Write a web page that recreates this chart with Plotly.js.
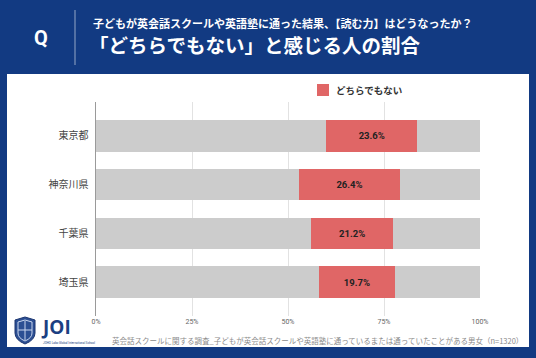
<!DOCTYPE html>
<html>
<head>
<meta charset="utf-8">
<script src="https://cdn.plot.ly/plotly-3.0.1.min.js"></script>
<style>
html,body{margin:0;padding:0;background:#123a82;}
#chart{width:536px;height:358px;}
</style>
</head>
<body>
<div id="chart"></div>
<script>
// ---- data ----
const prefectures = ["東京都", "神奈川県", "千葉県", "埼玉県"];
const leftShare = [60.0, 52.8, 56.1, 58.1];      // gray segment before
const neutralShare = [23.6, 26.4, 21.2, 19.7];   // 「どちらでもない」
const rightShare = [16.4, 20.8, 22.7, 22.2];     // gray segment after
const xTicks = [0, 25, 50, 75, 100];
const xTickLabels = ["0%", "25%", "50%", "75%", "100%"];
const legendLabel = "どちらでもない";
const headerSub = "子どもが英会話スクールや英語塾に通った結果、【読む力】はどうなったか？";
const headerMain = "「どちらでもない」と感じる人の割合";
const footnote = "英会話スクールに関する調査_子どもが英会話スクールや英語塾に通っているまたは通っていたことがある男女（n=1320）";

// ---- layout helpers (pixel -> paper) ----
const ML = 96, MR = 56, MT = 102, MB = 42, W = 536, H = 358;
const PW = W - ML - MR, PH = H - MT - MB;
const px = x => (x - ML) / PW;
const py = y => (H - MB - y) / PH;

const NAVY = "#123a82";
const GRAY = "#cccccc";
const RED = "#e06666";
const JP = "'Noto Sans CJK JP', 'Noto Sans', sans-serif";

const common = {type: "bar", orientation: "h", y: prefectures, width: 0.65, hoverinfo: "skip", showlegend: false};
const traces = [
  Object.assign({}, common, {x: leftShare, marker: {color: GRAY}, name: "other1"}),
  Object.assign({}, common, {
    x: neutralShare, marker: {color: RED}, name: legendLabel,
    text: neutralShare.map(v => "<b>" + v.toFixed(1) + "%</b>"),
    textposition: "inside", insidetextanchor: "middle", textangle: 0,
    constraintext: "none",
    insidetextfont: {size: 9.5, color: "#222", family: "Roboto, 'Noto Sans', sans-serif"}
  }),
  Object.assign({}, common, {x: rightShare, marker: {color: GRAY}, name: "other2"})
];

const shapes = [
  // white panel
  {type: "rect", xref: "paper", yref: "paper", layer: "below",
   x0: px(7), x1: px(529), y0: py(347), y1: py(74), fillcolor: "#ffffff", line: {width: 0}},
  // header divider
  {type: "line", xref: "paper", yref: "paper",
   x0: px(75), x1: px(75), y0: py(10), y1: py(65), line: {color: "rgba(255,255,255,0.55)", width: 1}},
  // legend swatch
  {type: "rect", xref: "paper", yref: "paper",
   x0: px(317), x1: px(329), y0: py(96), y1: py(84), fillcolor: RED, line: {width: 0}},
  // logo shield
  {type: "path", xref: "paper", yref: "paper",
   path: `M ${px(15)} ${py(320)} L ${px(25)} ${py(317)} L ${px(35)} ${py(320)} L ${px(35)} ${py(333)} Q ${px(35)} ${py(340)} ${px(25)} ${py(344)} Q ${px(15)} ${py(340)} ${px(15)} ${py(333)} Z`,
   fillcolor: "#2c4f93", line: {color: "#1a3570", width: 1}},
  {type: "path", xref: "paper", yref: "paper",
   path: `M ${px(18)} ${py(322)} L ${px(25)} ${py(320)} L ${px(32)} ${py(322)} L ${px(32)} ${py(333)} Q ${px(32)} ${py(338)} ${px(25)} ${py(341)} Q ${px(18)} ${py(338)} ${px(18)} ${py(333)} Z`,
   fillcolor: "rgba(0,0,0,0)", line: {color: "#c9d6ee", width: 1}},
  {type: "line", xref: "paper", yref: "paper", x0: px(18), x1: px(32), y0: py(330), y1: py(330), line: {color: "#c9d6ee", width: 1}},
  {type: "line", xref: "paper", yref: "paper", x0: px(25), x1: px(25), y0: py(321), y1: py(340), line: {color: "#c9d6ee", width: 1}}
];

const annotations = [
  {xref: "paper", yref: "paper", x: px(41), y: py(38), text: "<b>Q</b>", showarrow: false,
   xanchor: "center", yanchor: "middle", font: {size: 20, color: "#ffffff", family: "Roboto, 'Noto Sans', sans-serif"}},
  {xref: "paper", yref: "paper", x: px(91), y: py(23), text: "<b>" + headerSub + "</b>", showarrow: false,
   xanchor: "left", yanchor: "middle", font: {size: 11, color: "#ffffff", family: JP}},
  {xref: "paper", yref: "paper", x: px(87), y: py(45), text: "<b>" + headerMain + "</b>", showarrow: false,
   xanchor: "left", yanchor: "middle", font: {size: 19.5, color: "#ffffff", family: JP}},
  {xref: "paper", yref: "paper", x: px(334), y: py(90), text: "<b>" + legendLabel + "</b>", showarrow: false,
   xanchor: "left", yanchor: "middle", font: {size: 9.5, color: "#333", family: JP}},
  {xref: "paper", yref: "paper", x: px(525), y: py(340), text: footnote, showarrow: false,
   xanchor: "right", yanchor: "middle", font: {size: 7.5, color: "#8a8a8a", family: JP}},
  {xref: "paper", yref: "paper", x: px(39), y: py(327), text: "<b>JOI</b>", showarrow: false,
   xanchor: "left", yanchor: "middle", font: {size: 19, color: "#1c3f82", family: "'Open Sans', Roboto, sans-serif"}},
  {xref: "paper", yref: "paper", x: px(41), y: py(343), text: "JOHO Labo Global International School", showarrow: false,
   xanchor: "left", yanchor: "middle", align: "left", font: {size: 3, color: "#1c3f82", family: "Roboto, sans-serif"}}
];

const layout = {
  width: W, height: H,
  margin: {l: ML, r: MR, t: MT, b: MB, pad: 0},
  paper_bgcolor: NAVY, plot_bgcolor: "rgba(0,0,0,0)",
  barmode: "stack", showlegend: false,
  xaxis: {range: [0, 100], tickvals: xTicks, ticktext: xTickLabels, showgrid: true, gridcolor: "#e2e2e2", gridwidth: 1,
          zeroline: false, ticks: "", fixedrange: true,
          tickfont: {size: 7, color: "#666", family: "Roboto, 'Noto Sans', sans-serif"}},
  yaxis: {range: [3.69, -0.69], type: "category", showgrid: false, zeroline: false, showline: true,
          linecolor: "#9a9a9a", linewidth: 1.5, ticks: "", ticklabelstandoff: 4, fixedrange: true,
          tickfont: {size: 10, color: "#444", family: JP}},
  shapes: shapes, annotations: annotations
};

Plotly.newPlot("chart", traces, layout, {displayModeBar: false, staticPlot: true});
</script>
</body>
</html>
